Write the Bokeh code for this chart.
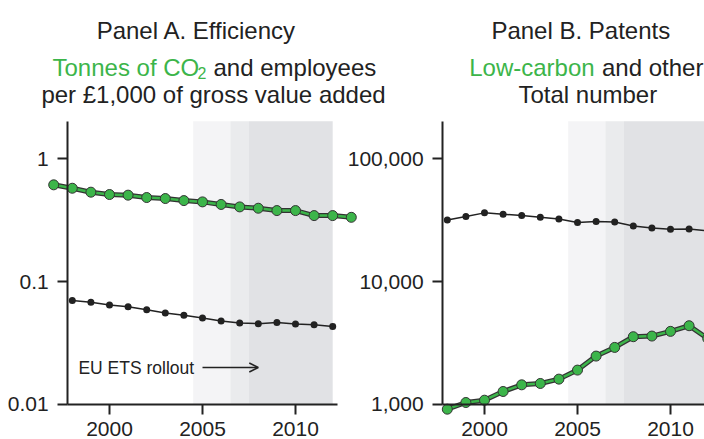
from bokeh.plotting import figure
from bokeh.models import (Range1d, LogScale, LinearScale, LogAxis, LinearAxis, FixedTicker,
                          BoxAnnotation, Label, Arrow, OpenHead, NumeralTickFormatter, Grid)
from bokeh.embed import file_html
from bokeh.resources import INLINE

# ---------------- data ----------------
years_co2 = list(range(1997, 2014))
co2_per_gva = [0.614, 0.576, 0.535, 0.512, 0.506, 0.484, 0.475, 0.457, 0.446,
               0.425, 0.406, 0.396, 0.379, 0.379, 0.345, 0.345, 0.334]
years_emp = list(range(1998, 2013))
emp_per_gva = [0.0703, 0.0679, 0.0645, 0.0625, 0.0591, 0.0555, 0.0532, 0.0506,
               0.0478, 0.0460, 0.0455, 0.0466, 0.0452, 0.0446, 0.0432]

years_pat = list(range(1998, 2013))
low_carbon = [916, 1038, 1084, 1276, 1446, 1483, 1609, 1906, 2478, 2915,
              3563, 3607, 3938, 4377, 3450]
other_pat = [31800, 33900, 36300, 35400, 34500, 33450, 32400, 30270, 30840,
             30630, 28420, 27380, 26710, 26880, 25900]

x_ticks = [2000, 2005, 2010]
ya_ticks = [0.01, 0.1, 1]
ya_labels = ["0.01", "0.1", "1"]
yb_ticks = [1000, 10000, 100000]

# EU ETS phases (shaded periods)
phase_start = [2004.5, 2006.5, 2007.5]
phase_end = [2006.5, 2007.5, 2012.0]
phase_end_b = [2006.5, 2007.5, 2014.0]
phase_colors = ["#f4f4f6", "#eaebed", "#e1e2e5"]

GREEN = "#3cb54a"
DARK = "#222222"
FONT = "Liberation Sans"

W, H = 704, 439

p = figure(width=W, height=H, output_backend="svg", toolbar_location=None,
           x_range=Range1d(1994.140, 2031.989), y_range=Range1d(0.005189, 19.44),
           y_axis_type="log", x_axis_location=None, y_axis_location=None,
           min_border=0, outline_line_color=None)
p.title.visible = False
p.center = [r for r in p.center if not isinstance(r, Grid)]
p.extra_x_ranges = {"b": Range1d(1973.978, 2011.828)}
p.extra_y_ranges = {"b": Range1d(518.9, 1.944e6)}
p.extra_x_scales = {"b": LinearScale()}
p.extra_y_scales = {"b": LogScale()}

# shading
for s, e, c in zip(phase_start, phase_end, phase_colors):
    p.add_layout(BoxAnnotation(left=s, right=e, bottom=0.01, top=2.02, fill_color=c,
                               fill_alpha=1, line_alpha=0, level="underlay"))
for s, e, c in zip(phase_start, phase_end_b, phase_colors):
    p.add_layout(BoxAnnotation(left=s, right=e, bottom=1000, top=2.02e5, fill_color=c,
                               fill_alpha=1, line_alpha=0, level="underlay",
                               x_range_name="b", y_range_name="b"))

# Panel A series
p.line(years_emp, emp_per_gva, line_color=DARK, line_width=1.5)
p.scatter(years_emp, emp_per_gva, size=7, fill_color=DARK, line_color=None)
p.line(years_co2, co2_per_gva, line_color="#333333", line_width=5)
p.line(years_co2, co2_per_gva, line_color=GREEN, line_width=2.5)
p.scatter(years_co2, co2_per_gva, size=10, fill_color=GREEN, line_color="#333333", line_width=1)

# Panel B series
kb = dict(x_range_name="b", y_range_name="b")
p.line(years_pat, other_pat, line_color=DARK, line_width=1.5, **kb)
p.scatter(years_pat, other_pat, size=7, fill_color=DARK, line_color=None, **kb)
p.line(years_pat, low_carbon, line_color="#333333", line_width=5, **kb)
p.line(years_pat, low_carbon, line_color=GREEN, line_width=2.5, **kb)
p.scatter(years_pat, low_carbon, size=10, fill_color=GREEN, line_color="#333333", line_width=1, **kb)


def style(ax, standoff):
    ax.axis_line_color = DARK
    ax.axis_line_width = 2
    ax.major_tick_line_color = DARK
    ax.major_tick_line_width = 2
    ax.major_tick_out = 10
    ax.major_tick_in = 0
    ax.minor_tick_out = 0
    ax.minor_tick_in = 0
    ax.major_label_text_font = FONT
    ax.major_label_text_font_size = "21px"
    ax.major_label_text_color = DARK
    ax.major_label_standoff = standoff


ya = LogAxis(fixed_location=1997.75, bounds=(0.01, 2.02), ticker=FixedTicker(ticks=ya_ticks),
             major_label_overrides=dict(zip(ya_ticks, ya_labels)))
style(ya, 9)
p.add_layout(ya, "left")
xa = LinearAxis(fixed_location=0.01, bounds=(1997.75, 2012.25), ticker=FixedTicker(ticks=x_ticks))
style(xa, 8)
p.add_layout(xa, "below")

yb = LogAxis(fixed_location=1997.75, bounds=(1000, 2.02e5), ticker=FixedTicker(ticks=yb_ticks),
             formatter=NumeralTickFormatter(format="0,0"), **kb)
style(yb, 9)
p.add_layout(yb, "left")
xb = LinearAxis(fixed_location=1000, bounds=(1997.75, 2014), ticker=FixedTicker(ticks=x_ticks), **kb)
style(xb, 8)
p.add_layout(xb, "below")

# annotation
p.add_layout(Label(x=2004.55, y=0.02, text="EU ETS rollout", text_align="right",
                   text_baseline="middle", text_font=FONT, text_font_size="17.5px",
                   text_color=DARK))
p.add_layout(Arrow(x_start=2005, y_start=0.02, x_end=2008, y_end=0.02, line_color=DARK,
                   line_width=1.5, end=OpenHead(size=9, line_color=DARK, line_width=1.5)))

# titles (screen units: x from left, y from bottom of canvas)
def lab(x, y, text, color=DARK, size="24px", align="left"):
    p.add_layout(Label(x=x, y=H - y + 8, x_units="screen", y_units="screen", text=text,
                       text_color=color, text_font=FONT, text_font_size=size,
                       text_align=align, text_baseline="alphabetic"))

lab(196, 38.3, "Panel A. Efficiency", align="center")
lab(52, 75, "Tonnes of CO", color=GREEN)
lab(197, 80.5, "2", color=GREEN, size="16px")
lab(213, 75, "and employees")
lab(213, 101.7, "per £1,000 of gross value added", align="center")

lab(580.3, 38.3, "Panel B. Patents", align="center")
lab(468.7, 75, "Low-carbon", color=GREEN)
lab(601.5, 75, "and other")
lab(587.3, 101.7, "Total number", align="center")

open("out.html", "w").write(file_html(p, INLINE))
